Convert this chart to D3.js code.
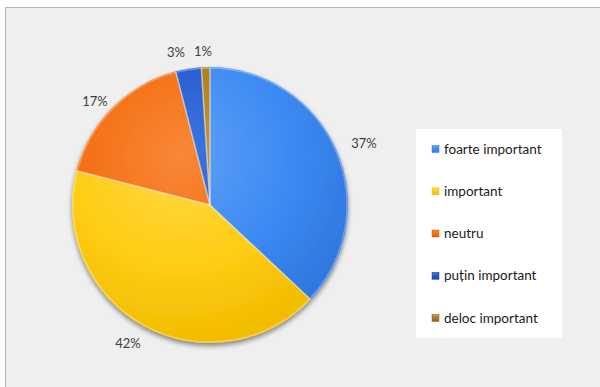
<!DOCTYPE html>
<html><head><meta charset="utf-8">
<script src="https://cdn.jsdelivr.net/npm/d3@7"></script>
<style>html,body{margin:0;padding:0;background:#fff;}svg{display:block;}</style>
</head><body>
<svg id="c" width="600" height="387"></svg>
<script>
const categories = ["foarte important","important","neutru","puțin important","deloc important"];
const values = [37, 42, 17, 3, 1];
const labels = ["37%","42%","17%","3%","1%"];
const baseColors = ["#3d8af2","#ffcc14","#f46c10","#2459cc","#a87a20"];
const lightColors = ["#5fa0f7","#ffd94a","#f88838","#3f76e0","#c89a3c"];
const darkColors = ["#2f78e0","#f2bd00","#e45e00","#1a46a8","#8a621a"];

const svg = d3.select("#c");
const defs = svg.append("defs");
svg.append("rect").attr("x",5.5).attr("y",7.5).attr("width",600).attr("height",400)
  .attr("fill","#efefef").attr("stroke","#b5b5b5").attr("stroke-width",1);

const cx = 210, cy = 205, r = 138;
const f = defs.append("filter").attr("id","sh").attr("x","-20%").attr("y","-20%").attr("width","140%").attr("height","140%");
f.append("feGaussianBlur").attr("in","SourceAlpha").attr("stdDeviation",2.5);
f.append("feOffset").attr("dx",0).attr("dy",3).attr("result","b");
f.append("feComponentTransfer").append("feFuncA").attr("type","linear").attr("slope",0.45);
const m = f.append("feMerge"); m.append("feMergeNode"); m.append("feMergeNode").attr("in","SourceGraphic");

categories.forEach((c,i)=>{
  const g = defs.append("radialGradient").attr("id","g"+i).attr("gradientUnits","userSpaceOnUse")
    .attr("cx",-30).attr("cy",-50).attr("r",r*1.35);
  g.append("stop").attr("offset","0%").attr("stop-color",lightColors[i]);
  g.append("stop").attr("offset","60%").attr("stop-color",baseColors[i]);
  g.append("stop").attr("offset","100%").attr("stop-color",darkColors[i]);
});

const pie = d3.pie().sort(null).value(d=>d)(values);
const arc = d3.arc().innerRadius(0).outerRadius(r);
const pg = svg.append("g").attr("transform",`translate(${cx},${cy})`).attr("filter","url(#sh)");
pg.selectAll("path").data(pie).join("path").attr("d",arc)
  .attr("fill",(d,i)=>`url(#g${i})`);
// bevel highlight
const bevel = d3.arc().innerRadius(0).outerRadius(r-1);
svg.append("g").attr("transform",`translate(${cx},${cy})`).selectAll("path").data(pie).join("path")
  .attr("d",bevel).attr("fill","none").attr("stroke","rgba(255,255,255,0.3)").attr("stroke-width",1.5)
  .attr("stroke-linejoin","round");

const labelPos = [[364,148],[128,348],[95,106],[176,57],[203,56]];
svg.append("g").selectAll("text").data(pie).join("text")
  .attr("x",(d,i)=>labelPos[i][0]).attr("y",(d,i)=>labelPos[i][1])
  .attr("text-anchor","middle").attr("font-family","Lato, 'Open Sans', sans-serif")
  .attr("font-size",13).attr("fill","#404040").text((d,i)=>labels[i]);

// legend
categories.forEach((c,i)=>{
  const g = defs.append("linearGradient").attr("id","lg"+i).attr("x1",0).attr("y1",0).attr("x2",0).attr("y2",1);
  g.append("stop").attr("offset","0%").attr("stop-color",lightColors[i]);
  g.append("stop").attr("offset","100%").attr("stop-color",darkColors[i]);
});
svg.append("rect").attr("x",416).attr("y",129).attr("width",146).attr("height",209).attr("fill","#fff");
const ly = d3.scalePoint().domain(categories).range([149,318]);
const lg = svg.append("g").selectAll("g").data(categories).join("g")
  .attr("transform",d=>`translate(432,${ly(d)})`);
lg.append("rect").attr("x",0).attr("y",-3.5).attr("width",7).attr("height",7)
  .attr("fill",(d,i)=>`url(#lg${i})`).attr("stroke",(d,i)=>darkColors[i]).attr("stroke-width",0.5);
lg.append("text").attr("x",12).attr("y",4.5).attr("font-family","Lato, 'Open Sans', sans-serif")
  .attr("font-size",13.5).attr("fill","#1a1a1a").text(d=>d);
</script>
</body></html>
